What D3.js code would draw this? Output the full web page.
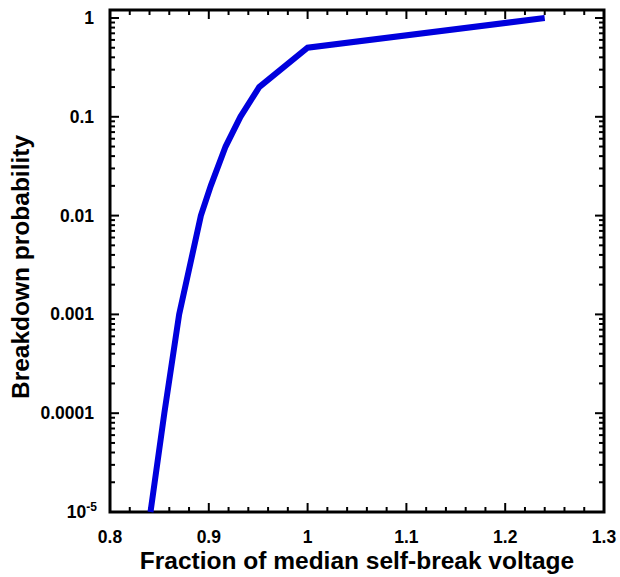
<!DOCTYPE html>
<html>
<head>
<meta charset="utf-8">
<script src="https://cdn.jsdelivr.net/npm/d3@7"></script>
<style>
  html, body { margin: 0; padding: 0; background: #fff; }
  svg text { font-family: "Liberation Sans", Arial, Helvetica, sans-serif; font-weight: bold; }
</style>
</head>
<body>
<svg id="chart" width="620" height="577"></svg>
<script>
// Breakdown probability vs. fraction of the median self-break voltage
const voltageFraction = [0.841, 0.855, 0.870, 0.892, 0.902, 0.917, 0.932, 0.951, 1.000, 1.240];
const probability     = [1e-5, 1e-4, 1e-3, 1e-2, 2e-2, 5e-2, 1e-1, 2e-1, 5e-1, 1.0];

const xTickValues = [0.8, 0.9, 1.0, 1.1, 1.2, 1.3];
const xTickLabels = ["0.8", "0.9", "1", "1.1", "1.2", "1.3"];
const yTickValues = [1e-5, 1e-4, 1e-3, 1e-2, 1e-1, 1];
const yTickLabels = ["10^-5", "0.0001", "0.001", "0.01", "0.1", "1"];

const svg = d3.select("#chart");
const plotL = 110, plotR = 604, plotT = 10, plotB = 512;

const x = d3.scaleLinear().domain([0.8, 1.3]).range([plotL, plotR]);
const yTopValue = Math.pow(10, (18 - plotT) / ((plotB - 18) / 5));
const y = d3.scaleLog().domain([1e-5, yTopValue]).range([plotB, plotT]);

// minor tick positions
const xMinor = d3.range(0, 26).map(i => 0.8 + i * 0.02).filter(v => v <= 1.3001);
const yMinor = [];
for (let e = -5; e <= 0; e++) {
  for (let m = 1; m <= 9; m++) {
    const v = m * Math.pow(10, e);
    if (v <= yTopValue) yMinor.push(v);
  }
}
const isMajorX = v => xTickValues.some(t => Math.abs(t - v) < 1e-9);
const isMajorY = v => yTickValues.some(t => Math.abs(t - v) / t < 1e-9);

const ticks = svg.append("g").attr("stroke", "#000").attr("stroke-width", 2);

// x ticks, bottom and top, pointing inward
xMinor.forEach(v => {
  const len = isMajorX(v) ? 9 : 5;
  ticks.append("line").attr("x1", x(v)).attr("x2", x(v)).attr("y1", plotB).attr("y2", plotB - len);
  ticks.append("line").attr("x1", x(v)).attr("x2", x(v)).attr("y1", plotT).attr("y2", plotT + len);
});
// y ticks, left and right, pointing inward
yMinor.forEach(v => {
  const len = isMajorY(v) ? 9 : 5;
  ticks.append("line").attr("y1", y(v)).attr("y2", y(v)).attr("x1", plotL).attr("x2", plotL + len);
  ticks.append("line").attr("y1", y(v)).attr("y2", y(v)).attr("x1", plotR).attr("x2", plotR - len);
});

// frame
svg.append("rect")
  .attr("x", plotL).attr("y", plotT)
  .attr("width", plotR - plotL).attr("height", plotB - plotT)
  .attr("fill", "none").attr("stroke", "#000").attr("stroke-width", 3);

// curve
const pts = voltageFraction.map((v, i) => [v, probability[i]]);
svg.append("path")
  .datum(pts)
  .attr("fill", "none")
  .attr("stroke", "#0000dd")
  .attr("stroke-width", 6)
  .attr("stroke-linejoin", "miter")
  .attr("d", d3.line().x(d => x(d[0])).y(d => y(d[1])));

// x tick labels
svg.append("g").selectAll("text")
  .data(xTickValues)
  .join("text")
  .attr("x", d => x(d))
  .attr("y", 543)
  .attr("text-anchor", "middle")
  .attr("font-size", 17.5)
  .text((d, i) => xTickLabels[i]);

// y tick labels
const yl = svg.append("g");
yTickValues.forEach((v, i) => {
  const lab = yTickLabels[i];
  const t = yl.append("text")
    .attr("x", 94)
    .attr("y", y(v) + 6)
    .attr("text-anchor", "end")
    .attr("font-size", 17.5);
  if (lab.includes("^")) {
    const [base, exp] = lab.split("^");
    t.attr("x", 97);
    t.append("tspan").text(base);
    t.append("tspan").attr("dy", -7).attr("font-size", 12).text(exp);
  } else {
    t.text(lab);
  }
});

// axis titles
svg.append("text")
  .attr("x", x(1.05))
  .attr("y", 569)
  .attr("text-anchor", "middle")
  .attr("font-size", 24.5)
  .text("Fraction of median self-break voltage");

svg.append("text")
  .attr("transform", `translate(29, ${(plotT + plotB) / 2 + 6}) rotate(-90)`)
  .attr("text-anchor", "middle")
  .attr("font-size", 24.5)
  .text("Breakdown probability");
</script>
</body>
</html>
